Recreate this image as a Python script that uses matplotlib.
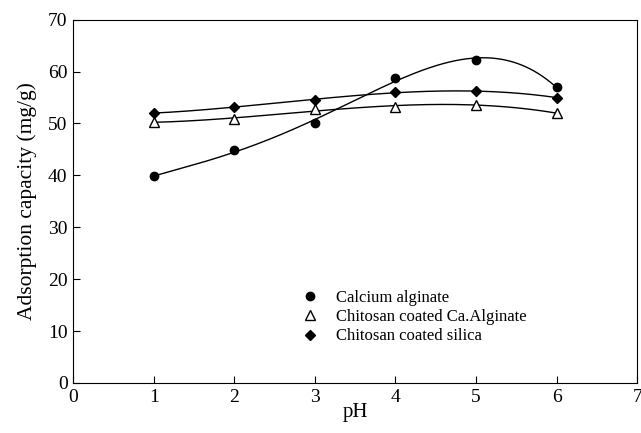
import numpy as np
import matplotlib.pyplot as plt

plt.rcParams['font.family'] = ['Liberation Serif', 'DejaVu Serif']

# pH values and adsorption capacity (mg/g)
ph = [1, 2, 3, 4, 5, 6]
calcium_alginate = [39.8, 44.8, 50.1, 58.8, 62.3, 57.0]
chitosan_ca_alginate = [50.3, 50.8, 52.8, 53.2, 53.6, 52.0]
chitosan_silica = [52.0, 53.2, 54.6, 56.0, 56.2, 55.0]

fig = plt.figure(figsize=(6.41, 4.33), dpi=100)
ax = fig.add_axes([0.114, 0.1155, 0.88, 0.839])

xs = np.linspace(1, 6, 200)

# smooth trend curves (polynomial fits)
for y, deg in [(calcium_alginate, 4), (chitosan_ca_alginate, 3), (chitosan_silica, 3)]:
    coef = np.polyfit(ph, y, deg)
    ax.plot(xs, np.polyval(coef, xs), color='black', lw=1.0)

ax.plot(ph, calcium_alginate, 'o', color='black', ms=6, ls='none', label='Calcium alginate')
ax.plot(ph, chitosan_ca_alginate, '^', mfc='white', mec='black', mew=1.0, ms=6.5, ls='none',
        label='Chitosan coated Ca.Alginate')
ax.plot(ph, chitosan_silica, 'D', color='black', ms=5.5, ls='none', label='Chitosan coated silica')

ax.set_xlim(0, 7)
ax.set_ylim(0, 70)
ax.set_xticks(range(0, 8))
ax.set_yticks(range(0, 80, 10))
ax.tick_params(direction='in', length=5, labelsize=14, pad=4)
ax.set_xlabel('pH', fontsize=15, labelpad=-2)
ax.set_ylabel('Adsorption capacity (mg/g)', fontsize=15.5, labelpad=8)

ax.legend(loc='upper left', bbox_to_anchor=(0.39, 0.275), frameon=False, fontsize=12,
          handlelength=1.2, handletextpad=1.0, labelspacing=0.2, borderaxespad=0)

fig.savefig('out.png', dpi=100)
